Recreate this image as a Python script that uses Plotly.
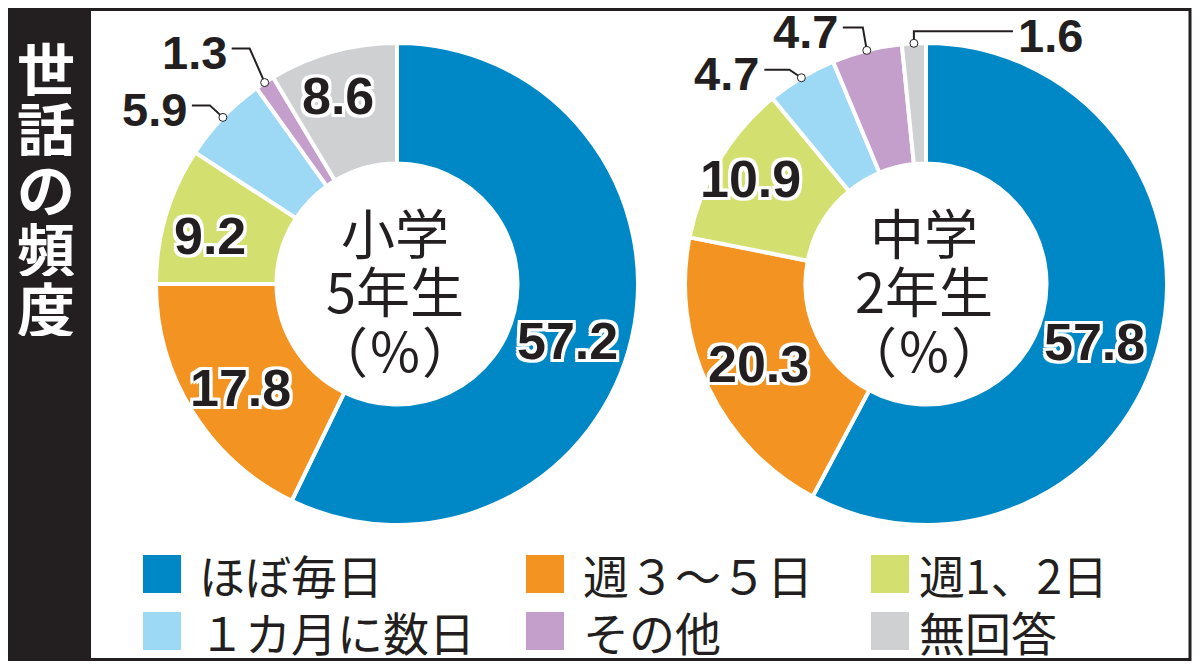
import math
import plotly.graph_objects as go

# Data
categories = ["ほぼ毎日", "週３～５日", "週1、2日", "１カ月に数日", "その他", "無回答"]
colors = ["#0088C6", "#F39322", "#D3DF6F", "#9DD8F4", "#C49FCB", "#CFD0D2"]
grade_titles = [["小学", "5年生", "（％）"], ["中学", "2年生", "（％）"]]
elem_values = [57.2, 17.8, 9.2, 5.9, 1.3, 8.6]
junior_values = [57.8, 20.3, 10.9, 4.7, 4.7, 1.6]
side_title = "世話の頻度"

# Layout helpers (positions given in window pixels; the page body adds an 8px margin)
OFF = 8
FW, FH = 1200 - 2 * OFF, 669 - 2 * OFF
R = 241
centers = [(397, 284), (926, 284)]
INK = "#231F20"
NUM_FONT = "Liberation Sans, Arial, sans-serif"
JP_FONT = "Noto Sans CJK JP, sans-serif"
OUTLINE = ", ".join(f"{dx}px {dy}px 0 #fff" for dx in (-3, 0, 3) for dy in (-3, 0, 3) if dx or dy)

# inside labels: (radius fraction, angle tweak in degrees)
inside_pos = [
    {0: (0.745, 5.5), 1: (0.78, -1.5), 2: (0.80, -2), 5: (0.82, -2)},
    {0: (0.74, 5), 1: (0.77, 0), 2: (0.85, 0)},
]
# small slices get a leader line: (elbow dx, elbow dy, horizontal run)
leaders = [
    {3: (-13, -12, -18), 4: (-15, -34, -18)},
    {3: (-12, -8, -25), 4: (-4, -23, -20), 5: (0, -12, 99)},
]


def px(x):
    return (x - OFF) / FW


def py(y):
    return 1 - (y - OFF) / FH


def slice_point(values, i, cx, cy, r, dtheta=0.0):
    total = sum(values)
    cum = sum(values[:i]) + values[i] / 2
    th = 2 * math.pi * cum / total + math.radians(dtheta)
    return cx + r * math.sin(th), cy - r * math.cos(th)


fig = go.Figure()
shapes = []
annotations = []

for k, values in enumerate([elem_values, junior_values]):
    cx, cy = centers[k]
    fig.add_trace(go.Pie(
        labels=categories,
        values=values,
        sort=False,
        direction="clockwise",
        rotation=0,
        hole=0.5,
        textinfo="none",
        hoverinfo="label+value",
        showlegend=False,
        marker=dict(colors=colors, line=dict(color="white", width=4)),
        domain=dict(x=[px(cx - R), px(cx + R)], y=[py(cy + R), py(cy - R)]),
    ))

    # center title
    for j, line in enumerate(grade_titles[k]):
        annotations.append(dict(
            x=px(cx - 2), y=py(cy - 53 + j * 59), xref="paper", yref="paper",
            text=line, showarrow=False, xanchor="center", yanchor="middle",
            height=57, font=dict(family=JP_FONT, size=54, color=INK),
        ))

    for i, v in enumerate(values):
        if i in leaders[k]:
            dx, dy, run = leaders[k][i]
            x0, y0 = slice_point(values, i, cx, cy, R)
            ex, ey = x0 + dx, y0 + dy
            hx = ex + run
            shapes.append(dict(
                type="path", xref="paper", yref="paper",
                path=f"M{px(x0)},{py(y0)} L{px(ex)},{py(ey)} L{px(hx)},{py(ey)}",
                line=dict(color=INK, width=2),
            ))
            shapes.append(dict(
                type="circle", xref="paper", yref="paper",
                x0=px(x0 - 4), x1=px(x0 + 4), y0=py(y0 + 4), y1=py(y0 - 4),
                fillcolor="white", line=dict(color=INK, width=1),
            ))
            annotations.append(dict(
                x=px(hx + (-3 if run < 0 else 3)), y=py(ey + 4), xref="paper", yref="paper",
                text=f"{v:.1f}", showarrow=False,
                xanchor="right" if run < 0 else "left", yanchor="middle",
                font=dict(family=NUM_FONT, size=47, color=INK, weight="bold", shadow=OUTLINE),
            ))
        else:
            rf, dth = inside_pos[k][i]
            lx, ly = slice_point(values, i, cx, cy, R * rf, dth)
            annotations.append(dict(
                x=px(lx), y=py(ly), xref="paper", yref="paper",
                text=f"{v:.1f}", showarrow=False, xanchor="center", yanchor="middle",
                font=dict(family=NUM_FONT, size=52, color=INK, weight="bold", shadow=OUTLINE),
            ))

# left title strip
shapes.append(dict(type="rect", xref="paper", yref="paper", layer="below",
                   x0=0, x1=px(91), y0=0, y1=1,
                   fillcolor=INK, line=dict(width=0)))
for j, ch in enumerate(side_title):
    annotations.append(dict(
        x=px(46), y=py(67 + j * 60), xref="paper", yref="paper",
        text=ch, showarrow=False, xanchor="center", yanchor="middle",
        height=58, font=dict(family=JP_FONT, size=58, color="white", weight="bold"),
    ))

# frame
shapes.append(dict(type="rect", xref="paper", yref="paper",
                   x0=px(60), x1=px(1190), y0=py(659.5), y1=py(9.5),
                   line=dict(color=INK, width=3)))

# legend (2 rows x 3 cols)
sq_x = [143, 526, 871]
lab_x = [197, 581, 917]
row_y = [574, 631]
for i, name in enumerate(categories):
    r, c = divmod(i, 3)
    yc = row_y[r]
    shapes.append(dict(type="rect", xref="paper", yref="paper",
                       x0=px(sq_x[c]), x1=px(sq_x[c] + 38), y0=py(yc + 19), y1=py(yc - 19),
                       fillcolor=colors[i], line=dict(width=0)))
    annotations.append(dict(
        x=px(lab_x[c]), y=py(yc), xref="paper", yref="paper",
        text=name, showarrow=False, xanchor="left", yanchor="middle",
        height=54, font=dict(family=JP_FONT, size=46, color=INK),
    ))

fig.update_layout(
    width=FW, height=FH,
    margin=dict(l=0, r=0, t=0, b=0),
    paper_bgcolor="white",
    plot_bgcolor="white",
    shapes=shapes,
    annotations=annotations,
)

fig.write_html("out.html")
